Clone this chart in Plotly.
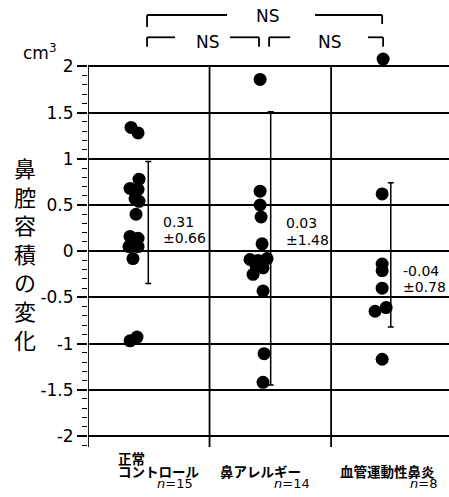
import plotly.graph_objects as go

# ---- data ----
categories = ["正常<br>コントロール", "鼻アレルギー", "血管運動性鼻炎"]
n_labels = ["15", "14", "8"]

# group 1: normal control
g1_x = [0.354, 0.412, 0.420, 0.346, 0.412, 0.387, 0.420, 0.395, 0.346, 0.412, 0.337, 0.412, 0.370, 0.403, 0.346]
g1_y = [1.34, 1.28, 0.78, 0.68, 0.67, 0.57, 0.54, 0.40, 0.16, 0.14, 0.05, 0.05, -0.08, -0.93, -0.97]
# group 2: allergic rhinitis
g2_x = [1.416, 1.416, 1.416, 1.424, 1.432, 1.333, 1.399, 1.473, 1.383, 1.440, 1.358, 1.440, 1.449, 1.440]
g2_y = [1.86, 0.65, 0.50, 0.37, 0.08, -0.09, -0.10, -0.08, -0.16, -0.18, -0.25, -0.43, -1.11, -1.42]
# group 3: vasomotor rhinitis
g3_x = [2.428, 2.420, 2.420, 2.420, 2.420, 2.362, 2.453, 2.420]
g3_y = [2.08, 0.62, -0.14, -0.21, -0.40, -0.65, -0.61, -1.17]

means = [0.31, 0.03, -0.04]
sds = [0.66, 1.48, 0.78]
mean_x = [0.496, 1.503, 2.491]
mean_txt = ["0.31", "0.03", "-0.04"]
sd_txt = ["±0.66", "±1.48", "±0.78"]

yticks = [-2, -1.5, -1, -0.5, 0, 0.5, 1, 1.5, 2]
yticktext = ["-2", "-1.5", "-1", "-0.5", "0", "0.5", "1", "1.5", "2"]
dividers = [0, 1, 2]

XMAX = 2.97
YMIN, YTOP, YMAX = -2.12, 2.0, 2.2

W, H = 449, 497
ML, MR, MT, MB = 88, 0, 48, 50
PH = H - MT - MB
PW = W - ML - MR


def py(pix):  # pixel row -> paper y
    return (H - MB - pix) / PH


def pxp(pix):  # pixel col -> paper x
    return (pix - ML) / PW


def px(xd):  # data x -> paper x
    return xd / XMAX


fig = go.Figure()

for xs, ys in [(g1_x, g1_y), (g2_x, g2_y), (g3_x, g3_y)]:
    fig.add_trace(go.Scatter(x=xs, y=ys, mode="markers",
                             marker=dict(size=13, color="black"),
                             showlegend=False, hoverinfo="skip"))

fig.add_trace(go.Scatter(x=mean_x, y=means, mode="markers",
                         marker=dict(size=1, color="rgba(0,0,0,0)"),
                         error_y=dict(type="data", array=sds, visible=True,
                                      color="black", thickness=1.5, width=3),
                         showlegend=False, hoverinfo="skip"))

font_num = "DejaVu Sans"
ann = []
mean_y = [0.315, 0.30, -0.214]
for i in range(3):
    ann.append(dict(x=mean_x[i] + (0.108 if i < 2 else 0.085), y=mean_y[i],
                    xref="x", yref="y", text=mean_txt[i], showarrow=False,
                    xanchor="left", yanchor="middle",
                    font=dict(family=font_num, size=14, color="black")))
for i in range(3):
    ann.append(dict(x=ann[i]["x"], y=mean_y[i] - 0.175, xref="x", yref="y",
                    text=sd_txt[i], showarrow=False, xanchor="left", yanchor="middle",
                    font=dict(family=font_num, size=14, color="black")))

# NS labels
ns_font = dict(family=font_num, size=17, color="black")
for xd, pr in [(1.481, 15.5), (0.987, 41.7), (1.991, 41.7)]:
    ann.append(dict(x=px(xd), y=py(pr), xref="paper", yref="paper", text="NS",
                    showarrow=False, xanchor="center", yanchor="middle", font=ns_font))

# unit
ann.append(dict(x=pxp(40), y=py(52), xref="paper", yref="paper",
                text="cm<sup>3</sup>", showarrow=False, xanchor="center", yanchor="middle",
                font=dict(family=font_num, size=17, color="black")))

# y title (vertical characters)
ann.append(dict(x=pxp(25), y=py(253), xref="paper", yref="paper",
                text="<br>".join(list("鼻腔容積の変化")), showarrow=False,
                xanchor="center", yanchor="middle",
                font=dict(family="Noto Sans CJK JP", size=22, color="black")))

# category labels
jp_font = dict(family="Noto Sans CJK JP", size=13.5, color="black")
cat_left = [116, 218.3, 338.3]
n_left = [155, 271.7, 408.3]
ann.append(dict(x=pxp(cat_left[0]), y=py(457.5), xref="paper", yref="paper",
                text="<b>正常</b>", showarrow=False, xanchor="left", yanchor="middle", font=jp_font))
ann.append(dict(x=pxp(cat_left[0]), y=py(471), xref="paper", yref="paper",
                text="<b>コントロール</b>", showarrow=False, xanchor="left", yanchor="middle", font=jp_font))
ann.append(dict(x=pxp(cat_left[1]), y=py(471), xref="paper", yref="paper",
                text="<b>鼻アレルギー</b>", showarrow=False, xanchor="left", yanchor="middle", font=jp_font))
ann.append(dict(x=pxp(cat_left[2]), y=py(471), xref="paper", yref="paper",
                text="<b>血管運動性鼻炎</b>", showarrow=False, xanchor="left", yanchor="middle", font=jp_font))
for i in range(3):
    ann.append(dict(x=pxp(n_left[i]), y=py(483), xref="paper", yref="paper",
                    text="<i>n</i>=" + n_labels[i], showarrow=False, xanchor="left", yanchor="middle",
                    font=dict(family=font_num, size=13, color="black")))

# shapes: group dividers / left axis
shapes = []
for d in dividers:
    shapes.append(dict(type="line", xref="x", yref="y", x0=d, x1=d, y0=YMIN, y1=YTOP,
                       line=dict(color="black", width=1.8), layer="below"))

lw = 1.8


def seg(x0, y0, x1, y1):
    shapes.append(dict(type="line", xref="paper", yref="paper",
                       x0=x0, y0=y0, x1=x1, y1=y1,
                       line=dict(color="black", width=lw)))


r1, r1a, r1b = py(15), py(27), py(24)
seg(px(0.486), r1a, px(0.486), r1)
seg(px(0.486), r1, px(1.144), r1)
seg(px(1.868), r1, px(2.420), r1)
seg(px(2.420), r1, px(2.420), r1b)
r2, r2b = py(37.3), py(46.7)
seg(px(0.486), r2b, px(0.486), r2)
seg(px(0.486), r2, px(0.716), r2)
seg(px(1.169), r2, px(1.407), r2)
seg(px(1.407), r2, px(1.407), r2b)
seg(px(1.490), r2b, px(1.490), r2)
seg(px(1.490), r2, px(1.663), r2)
seg(px(2.304), r2, px(2.428), r2)
seg(px(2.428), r2, px(2.428), r2b)

minor_vals = [round(-2.1 + 0.1 * k, 2) for k in range(42)]
minor_vals = [v for v in minor_vals if abs(v * 2 - round(v * 2)) > 1e-6]

fig.update_layout(
    width=W, height=H,
    margin=dict(l=ML, r=MR, t=MT, b=MB, pad=0),
    paper_bgcolor="white", plot_bgcolor="white",
    annotations=ann, shapes=shapes,
    xaxis=dict(range=[0, XMAX], showticklabels=False, ticks="",
               showgrid=False, zeroline=False, showline=False, fixedrange=True),
    yaxis=dict(range=[YMIN, YMAX], tickmode="array", tickvals=yticks, ticktext=yticktext,
               showgrid=True, gridcolor="black", gridwidth=1.8, zeroline=False,
               showline=False,
               ticks="outside", ticklen=10, tickwidth=1.5, tickcolor="black",
               tickfont=dict(family=font_num, size=17, color="black"),
               minor=dict(tickmode="array", tickvals=minor_vals, ticks="outside",
                          ticklen=5, tickwidth=1, tickcolor="black", showgrid=False),
               fixedrange=True),
)

fig.write_html("out.html")
